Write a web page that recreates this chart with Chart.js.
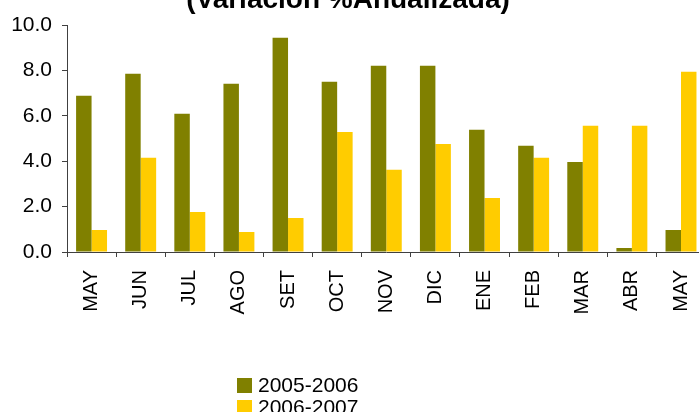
<!DOCTYPE html>
<html>
<head>
<meta charset="utf-8">
<script src="https://cdn.jsdelivr.net/npm/chart.js@4/dist/chart.umd.min.js"></script>
<style>
  html, body { margin: 0; padding: 0; background: #fff; overflow: hidden; }
  #wrap { width: 718px; height: 412px; }
</style>
</head>
<body>
<div id="wrap"><canvas id="chart" width="718" height="412"></canvas></div>
<script>
const months = ['MAY', 'JUN', 'JUL', 'AGO', 'SET', 'OCT', 'NOV', 'DIC', 'ENE', 'FEB', 'MAR', 'ABR', 'MAY'];
const serie0506 = [6.88, 7.85, 6.09, 7.41, 9.44, 7.5, 8.2, 8.2, 5.38, 4.68, 3.97, 0.18, 0.97];
const serie0607 = [0.97, 4.15, 1.76, 0.88, 1.5, 5.29, 3.62, 4.76, 2.38, 4.15, 5.56, 5.56, 7.94];
const yTicks = [0, 2, 4, 6, 8, 10];
const titleText = '(Variación %Anualizada)';

const FONT = "'Liberation Sans', Arial, sans-serif";
const axisColor = '#404040';

// title is cut at the top of the picture, so it is drawn by hand
const titlePlugin = {
  id: 'cutTitle',
  afterDraw(chart) {
    const ctx = chart.ctx;
    ctx.save();
    ctx.font = 'bold 28px ' + FONT;
    ctx.fillStyle = '#000';
    ctx.textAlign = 'center';
    ctx.textBaseline = 'alphabetic';
    ctx.fillText(titleText, 348, 8);
    ctx.restore();
  }
};

// stacked legend under the axis labels
const legendPlugin = {
  id: 'stackLegend',
  afterDraw(chart) {
    const ctx = chart.ctx;
    ctx.save();
    ctx.font = '21px ' + FONT;
    ctx.textBaseline = 'middle';
    ctx.textAlign = 'left';
    chart.data.datasets.forEach((ds, i) => {
      const y = 378 + i * 22;
      ctx.fillStyle = ds.backgroundColor;
      ctx.fillRect(237, y, 15, 15);
      ctx.fillStyle = '#000';
      ctx.fillText(ds.label, 258, y + 8);
    });
    ctx.restore();
  }
};

new Chart(document.getElementById('chart'), {
  type: 'bar',
  data: {
    labels: months,
    datasets: [
      { label: '2005-2006', data: serie0506, backgroundColor: '#808000' },
      { label: '2006-2007', data: serie0607, backgroundColor: '#FFCC00' }
    ]
  },
  options: {
    responsive: false,
    animation: false,
    layout: { padding: { top: 25, right: 0, left: 0, bottom: 0 } },
    datasets: { bar: { categoryPercentage: 0.63, barPercentage: 1.0 } },
    plugins: {
      legend: { display: false },
      title: { display: false },
      tooltip: { enabled: false }
    },
    scales: {
      x: {
        grid: { display: true, drawOnChartArea: false, drawTicks: true, tickLength: 5, color: axisColor, offset: true },
        border: { display: true, color: axisColor, width: 1 },
        ticks: { color: '#000', font: { family: FONT, size: 20 }, minRotation: 90, maxRotation: 90, padding: 13, autoSkip: false },
        afterFit(scale) { scale.height = 160; }
      },
      y: {
        min: 0,
        max: 10,
        afterBuildTicks(scale) { scale.ticks = yTicks.map(v => ({ value: v })); },
        grid: { display: true, drawOnChartArea: false, drawTicks: true, tickLength: 5, color: axisColor },
        border: { display: true, color: axisColor, width: 1 },
        ticks: { color: '#000', font: { family: FONT, size: 21 }, padding: 10, callback: v => Number(v).toFixed(1) },
        afterFit(scale) { scale.width = 67; }
      }
    }
  },
  plugins: [titlePlugin, legendPlugin]
});
</script>
</body>
</html>
